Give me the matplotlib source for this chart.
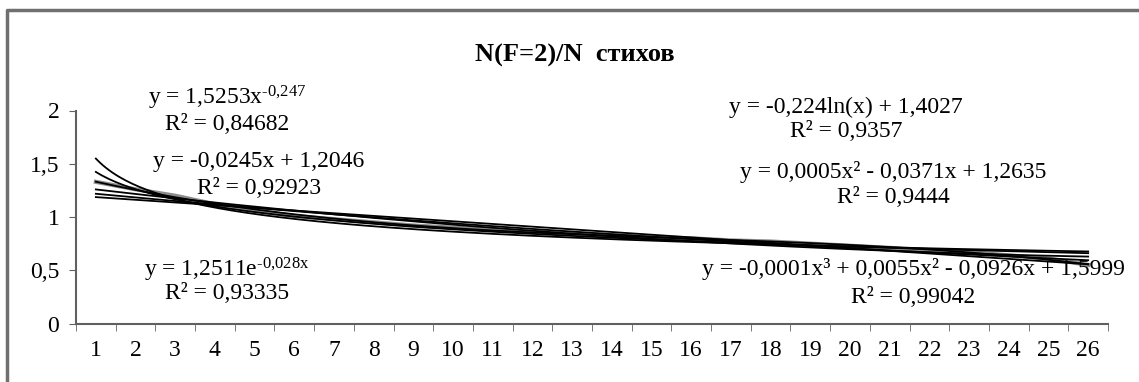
import numpy as np
import matplotlib.pyplot as plt
from matplotlib.lines import Line2D

plt.rcParams['font.family'] = ['Liberation Serif', 'DejaVu Serif']
plt.rcParams['mathtext.fontset'] = 'custom'
plt.rcParams['mathtext.rm'] = 'Liberation Serif'
plt.rcParams['mathtext.it'] = 'Liberation Serif:italic'
plt.rcParams['axes.unicode_minus'] = False

# data
categories = np.arange(1, 27)
ratio = [1.33, 1.26, 1.20, 1.12, 1.06, 1.01, 0.98, 0.95, 0.92, 0.90,
         0.88, 0.86, 0.85, 0.83, 0.81, 0.80, 0.78, 0.77, 0.75, 0.73,
         0.71, 0.69, 0.67, 0.64, 0.61, 0.55]

title = "N(F=2)/N  стихов"
y_ticks = [0, 0.5, 1, 1.5, 2]
y_tick_labels = ["0", "0,5", "1", "1,5", "2"]

# trendline labels as printed on the chart, with their positions (data coords)
labels = [
    (r"y = 1,5253x$^{\text{-0,247}}$", "R² = 0,84682", 4.3, 2.12, 1.87),
    ("y = -0,0245x + 1,2046", "R² = 0,92923", 5.1, 1.52, 1.27),
    (r"y = 1,2511e$^{\text{-0,028x}}$", "R² = 0,93335", 4.3, 0.50, 0.28),
    ("y = -0,224ln(x) + 1,4027", "R² = 0,9357", 19.9, 2.03, 1.80),
    ("y = 0,0005x² - 0,0371x + 1,2635", "R² = 0,9444", 21.1, 1.42, 1.18),
    ("y = -0,0001x³ + 0,0055x² - 0,0926x + 1,5999", "R² = 0,99042", 21.6, 0.51, 0.24),
]


def trendlines(x, y, xs):
    # the same fits Excel uses for its trendlines
    x = np.asarray(x, float)
    y = np.asarray(y, float)
    out = []
    b, a = np.polyfit(np.log(x), np.log(y), 1)
    out.append(np.exp(a) * xs ** b)                       # power
    out.append(np.polyval(np.polyfit(x, y, 1), xs))       # linear
    b, a = np.polyfit(x, np.log(y), 1)
    out.append(np.exp(a) * np.exp(b * xs))                # exponential
    b, a = np.polyfit(np.log(x), y, 1)
    out.append(a + b * np.log(xs))                        # log
    out.append(np.polyval(np.polyfit(x, y, 2), xs))       # poly 2
    out.append(np.polyval(np.polyfit(x, y, 3), xs))       # poly 3
    return out


fig = plt.figure(figsize=(11.39, 3.82), dpi=100)
ax = fig.add_axes([76 / 1139, 58.5 / 382, 1032 / 1139, 213 / 382])

ax.plot(categories, ratio, color="#8c8c8c", lw=3.0, zorder=2)
xs = np.linspace(1, 26, 300)
for yt in trendlines(categories, ratio, xs):
    ax.plot(xs, yt, color="black", lw=1.3, zorder=3)

for eq, r2, xc, ye, yr in labels:
    ax.text(xc, ye, eq, ha="center", va="center", fontsize=17, zorder=4)
    ax.text(xc, yr, r2, ha="center", va="center", fontsize=17, zorder=4)

ax.set_xlim(0.5, 26.5)
ax.set_ylim(0, 2)
ax.set_xticks(categories)
ax.set_xticklabels([str(c) for c in categories])
ax.set_xticks(np.arange(0.5, 27), minor=True)
ax.tick_params(axis="x", which="major", length=0, pad=12, labelsize=17)
ax.tick_params(axis="x", which="minor", length=5, direction="out", color="#606060")
ax.set_yticks(y_ticks)
ax.set_yticklabels(y_tick_labels)
ax.tick_params(axis="y", length=5, pad=7, labelsize=17, color="#606060")

for s in ["top", "right"]:
    ax.spines[s].set_visible(False)
for s in ["left", "bottom"]:
    ax.spines[s].set_color("#606060")
    ax.spines[s].set_linewidth(1.5)

fig.text(575 / 1139, 1 - 55 / 382, title, ha="center", va="center",
         fontsize=19, fontweight="bold")

# outer chart border (top and left edges visible)
fig.add_artist(Line2D([7 / 1139, 7 / 1139, 1], [0, 1 - 10 / 382, 1 - 10 / 382],
                      transform=fig.transFigure, color="#707070", lw=2.5))

fig.savefig("out.png", dpi=100)
